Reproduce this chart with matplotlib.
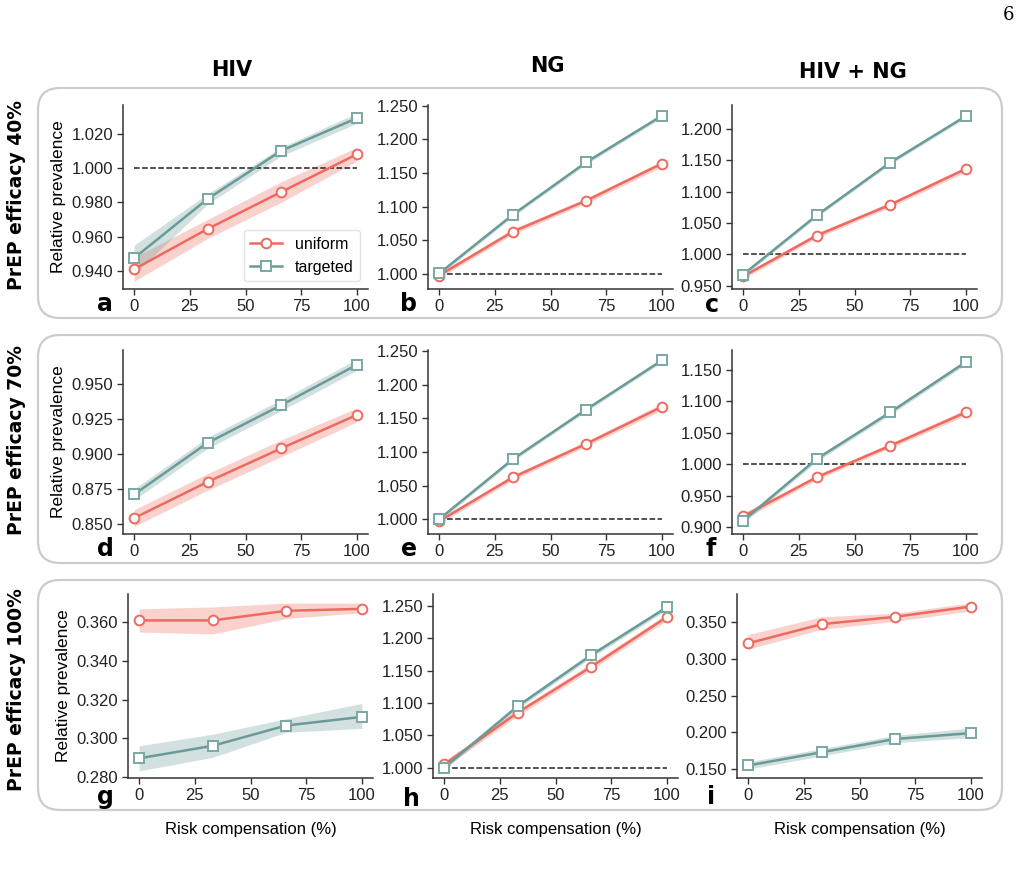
import numpy as np
import matplotlib.pyplot as plt
from matplotlib.patches import FancyBboxPatch
from matplotlib.ticker import MultipleLocator, FormatStrFormatter

plt.rcParams['font.family'] = ['Liberation Sans', 'DejaVu Sans']

# risk compensation (%)
rc = [0, 33, 66, 100]

# panels a..i (rows: PrEP efficacy 40/70/100 %, cols: HIV, NG, HIV + NG)
uni_mean = [
    [0.941, 0.9645, 0.986, 1.008],
    [0.998, 1.063, 1.109, 1.164],
    [0.965, 1.030, 1.079, 1.136],
    [0.854, 0.880, 0.904, 0.928],
    [0.997, 1.062, 1.112, 1.167],
    [0.917, 0.979, 1.029, 1.082],
    [0.361, 0.361, 0.366, 0.367],
    [1.005, 1.085, 1.156, 1.233],
    [0.321, 0.347, 0.357, 0.371],
]
uni_lo = [
    [0.934, 0.959, 0.980, 1.004],
    [0.994, 1.059, 1.105, 1.159],
    [0.961, 1.026, 1.075, 1.131],
    [0.848, 0.874, 0.898, 0.923],
    [0.993, 1.058, 1.108, 1.162],
    [0.912, 0.975, 1.025, 1.077],
    [0.355, 0.354, 0.362, 0.365],
    [1.000, 1.080, 1.151, 1.228],
    [0.313, 0.340, 0.351, 0.365],
]
uni_hi = [
    [0.948, 0.970, 0.992, 1.012],
    [1.002, 1.067, 1.113, 1.168],
    [0.969, 1.034, 1.083, 1.140],
    [0.860, 0.886, 0.910, 0.933],
    [1.001, 1.066, 1.116, 1.172],
    [0.922, 0.983, 1.033, 1.087],
    [0.367, 0.368, 0.370, 0.370],
    [1.010, 1.090, 1.161, 1.238],
    [0.333, 0.357, 0.362, 0.376],
]
tar_mean = [
    [0.9475, 0.982, 1.010, 1.029],
    [1.001, 1.088, 1.166, 1.235],
    [0.968, 1.062, 1.146, 1.220],
    [0.871, 0.908, 0.935, 0.964],
    [1.000, 1.089, 1.163, 1.236],
    [0.910, 1.008, 1.082, 1.162],
    [0.2895, 0.296, 0.3065, 0.311],
    [1.000, 1.095, 1.174, 1.248],
    [0.155, 0.173, 0.191, 0.199],
]
tar_lo = [
    [0.938, 0.979, 1.007, 1.026],
    [0.998, 1.085, 1.163, 1.232],
    [0.965, 1.059, 1.143, 1.217],
    [0.867, 0.904, 0.931, 0.960],
    [0.997, 1.086, 1.160, 1.233],
    [0.906, 1.004, 1.078, 1.158],
    [0.283, 0.290, 0.303, 0.305],
    [0.996, 1.091, 1.170, 1.244],
    [0.150, 0.168, 0.186, 0.193],
]
tar_hi = [
    [0.955, 0.985, 1.012, 1.032],
    [1.004, 1.091, 1.169, 1.238],
    [0.971, 1.065, 1.149, 1.223],
    [0.875, 0.912, 0.939, 0.968],
    [1.003, 1.092, 1.166, 1.239],
    [0.914, 1.012, 1.086, 1.166],
    [0.296, 0.302, 0.310, 0.318],
    [1.004, 1.099, 1.178, 1.252],
    [0.160, 0.178, 0.196, 0.206],
]

ylims = [(0.9295, 1.0367), (0.978, 1.251), (0.945, 1.2376),
         (0.8426, 0.9746), (0.978, 1.2515), (0.889, 1.181),
         (0.2793, 0.3747), (0.984, 1.2686), (0.138, 0.388)]
ysteps = [0.02, 0.05, 0.05, 0.025, 0.05, 0.05, 0.02, 0.05, 0.05]

col_titles = ["HIV", "NG", "HIV + NG"]
row_titles = ["PrEP efficacy 40%", "PrEP efficacy 70%", "PrEP efficacy 100%"]
letters = "abcdefghi"

c_uni = "#ee6a5f"
c_tar = "#6a9b98"

fig = plt.figure(figsize=(10.24, 8.81), dpi=100)
W, H = 1024, 881

# rounded boxes around each row (in inches)
for top, bot in [(88, 318), (335, 563), (580, 810)]:
    box = FancyBboxPatch((0.38, (H - bot) / 100), 9.64, (bot - top) / 100,
                         boxstyle="round,pad=0,rounding_size=0.22",
                         transform=fig.dpi_scale_trans, fill=False,
                         edgecolor="#cccccc", linewidth=1.6, zorder=0)
    fig.patches.append(box)

# axes pixel positions: left spine x, top y
lefts = [[123, 428, 732], [123, 428, 732], [128, 433, 737]]
tops = [105, 350, 594]
aw, ah = 245, 184

letter_pos = [(105, 304), (409, 304), (712, 305),
              (105, 549), (409, 549), (711, 549),
              (105, 797), (411, 799), (711, 797)]

for r in range(3):
    for c in range(3):
        k = 3 * r + c
        ax = fig.add_axes([lefts[r][c] / W, 1 - (tops[r] + ah) / H, aw / W, ah / H])
        ax.fill_between(rc, uni_lo[k], uni_hi[k], color=c_uni, alpha=0.3, lw=0)
        ax.fill_between(rc, tar_lo[k], tar_hi[k], color=c_tar, alpha=0.3, lw=0)
        ax.hlines(1.0, 0, 100, colors="#222222", linestyles="--", lw=1.1, zorder=1)
        ax.plot(rc, uni_mean[k], color=c_uni, lw=1.8, marker="o", ms=7,
                mfc="white", mec=c_uni, mew=1.4, label="uniform", zorder=3)
        ax.plot(rc, tar_mean[k], color=c_tar, lw=1.8, marker="s", ms=7,
                mfc="white", mec="#7aa7a4", mew=1.4, label="targeted", zorder=3)
        ax.set_xlim(-5, 105)
        ax.set_ylim(*ylims[k])
        ax.set_xticks([0, 25, 50, 75, 100])
        ax.yaxis.set_major_locator(MultipleLocator(ysteps[k]))
        ax.yaxis.set_major_formatter(FormatStrFormatter('%.3f'))
        for s in ["top", "right"]:
            ax.spines[s].set_visible(False)
        for s in ["left", "bottom"]:
            ax.spines[s].set_color("#333333")
            ax.spines[s].set_linewidth(1.1)
        ax.tick_params(labelsize=12, colors="#333333", labelcolor="#222222",
                       length=4, width=1, pad=3)
        ax.set_facecolor("none")
        if c == 0:
            ax.set_ylabel("Relative prevalence", fontsize=12.5, labelpad=4)
        if r == 2:
            ax.set_xlabel("Risk compensation (%)", fontsize=12, labelpad=14)
        if k == 0:
            ax.legend(loc="lower right", fontsize=11.5, frameon=True,
                      borderpad=0.4, handlelength=2.0, edgecolor="#dddddd")
        lx, ly = letter_pos[k]
        fig.text(lx / W, 1 - ly / H, letters[k], fontsize=17, fontweight="bold",
                 family="DejaVu Sans", ha="center", va="center")

for txt, x, y in zip(col_titles, [232, 547, 853], [70, 66, 72]):
    fig.text(x / W, 1 - y / H, txt, fontsize=15, fontweight="bold",
             family="DejaVu Sans", ha="center", va="center")

for txt, y in zip(row_titles, [195, 440, 690]):
    fig.text(17 / W, 1 - y / H, txt, fontsize=13.5, fontweight="bold",
             family="DejaVu Sans", ha="center", va="center", rotation=90)

fig.text(1008 / W, 1 - 15 / H, "6", fontsize=13, family="DejaVu Serif",
         ha="center", va="center")

fig.savefig("out.png", dpi=100)
